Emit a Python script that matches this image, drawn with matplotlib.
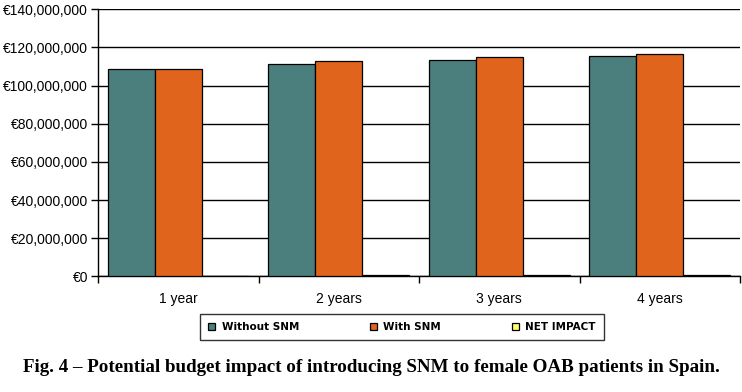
import matplotlib
matplotlib.use("Agg")
import matplotlib.pyplot as plt
import numpy as np
from matplotlib.ticker import FuncFormatter

categories = ["1 year", "2 years", "3 years", "4 years"]
without_snm = [108.6e6, 111.2e6, 113.2e6, 115.4e6]
with_snm = [108.6e6, 112.7e6, 114.9e6, 116.8e6]
net_impact = [0.0, 0.8e6, 0.9e6, 0.8e6]
series_names = ["Without SNM", "With SNM", "NET IMPACT"]
colors = ["#4A7F7D", "#E0641B", "#FFFF66"]
caption = "Fig. 4 – Potential budget impact of introducing SNM to female OAB patients in Spain."

fig = plt.figure(figsize=(7.42, 3.92), dpi=100)
ax = fig.add_axes([98/742, 1-276.3/392, (740-98)/742, (276.3-9.3)/392])

x = np.arange(len(categories))
w = 0.293
handles = []
for i, (vals, name, c) in enumerate(zip([without_snm, with_snm, net_impact], series_names, colors)):
    b = ax.bar(x + (i - 1) * w, vals, width=w, color=c, edgecolor="black",
               linewidth=0.9, label=name, zorder=3)
    handles.append(b)

ax.set_xlim(-0.5, len(categories) - 0.5)
ax.set_ylim(0, 140e6)
ax.set_yticks(np.arange(0, 140e6 + 1, 20e6))
ax.yaxis.set_major_formatter(FuncFormatter(lambda v, p: "€{:,.0f}".format(v)))
ax.grid(axis="y", color="black", linewidth=1.0, zorder=0)
ax.set_axisbelow(True)

ax.set_xticks(np.arange(-0.5, len(categories)), minor=False)
ax.set_xticklabels([])
ax.set_xticks(x, minor=True)
ax.set_xticklabels(categories, minor=True)
ax.tick_params(axis="x", which="major", length=5, width=1, direction="out", color="black")
ax.tick_params(axis="x", which="minor", length=0, pad=11)
ax.tick_params(axis="y", length=5, width=1, direction="out", pad=2)
for lab in ax.get_yticklabels() + ax.get_xticklabels(minor=True):
    lab.set_fontfamily("Liberation Sans")
    lab.set_fontsize(10)
    lab.set_color("black")

for s in ["top", "right"]:
    ax.spines[s].set_visible(False)
for s in ["left", "bottom"]:
    ax.spines[s].set_linewidth(1.0)
    ax.spines[s].set_color("black")

leg = fig.legend(handles=handles, labels=series_names, loc="center",
                 bbox_to_anchor=((200 + 604) / 2 / 742, 1 - 327 / 392),
                 ncol=3, frameon=True, fancybox=False, edgecolor="black",
                 handlelength=0.7, handleheight=0.7, handletextpad=0.6,
                 columnspacing=6.8, borderpad=0.8, borderaxespad=0,
                 prop={"family": "DejaVu Sans", "weight": "bold", "size": 7.5})
leg.get_frame().set_linewidth(1.0)

fig.text(0.5, 1 - 367 / 392, caption, ha="center", va="center",
         fontfamily="Liberation Serif", fontweight="bold", fontsize=13.7)

fig.savefig("out.png", dpi=100)
